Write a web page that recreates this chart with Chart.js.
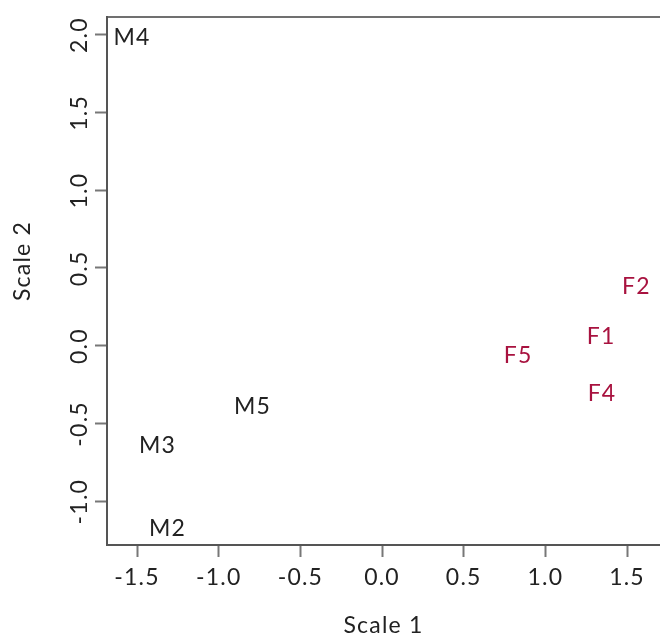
<!DOCTYPE html>
<html>
<head>
<meta charset="utf-8">
<script src="https://cdn.jsdelivr.net/npm/chart.js@4/dist/chart.umd.min.js"></script>
<style>
  html, body { margin: 0; padding: 0; background: #ffffff; }
  #wrap { width: 660px; height: 637px; position: relative; }
</style>
</head>
<body>
<div id="wrap"><canvas id="c" width="660" height="637"></canvas></div>
<script>
// ---- data ----
const maleLabels = ["M2", "M3", "M4", "M5"];
const maleScale1 = [-1.317, -1.378, -1.534, -0.796];
const maleScale2 = [-1.17, -0.64, 1.987, -0.385];

const femaleLabels = ["F1", "F2", "F4", "F5"];
const femaleScale1 = [1.338, 1.555, 1.344, 0.830];
const femaleScale2 = [0.061, 0.385, -0.304, -0.058];

const xTitle = "Scale 1";
const yTitle = "Scale 2";

const FONT = "Lato, 'DejaVu Sans', sans-serif";
const AXIS_COLOR = "#555555";
const TEXT_COLOR = "#222222";
const FEMALE_COLOR = "#A8123F";
const SPACING = "1.2px";

function toPoints(xs, ys) { return xs.map((x, i) => ({ x: x, y: ys[i] })); }

// wider letter spacing for all text, like the reference font
const spacing = {
  id: 'spacing',
  beforeDraw(chart) { chart.ctx.letterSpacing = SPACING; }
};

// draws each point as its text label, positioned by the chart's scales
const textPoints = {
  id: 'textPoints',
  afterDatasetsDraw(chart) {
    const ctx = chart.ctx;
    ctx.save();
    ctx.letterSpacing = SPACING;
    chart.data.datasets.forEach((ds, di) => {
      const meta = chart.getDatasetMeta(di);
      ctx.fillStyle = ds.textColor;
      ctx.font = "23px " + FONT;
      ctx.textAlign = "center";
      ctx.textBaseline = "alphabetic";
      meta.data.forEach((el, i) => {
        ctx.fillText(ds.pointLabels[i], el.x + 0.5, el.y + 8);
      });
    });
    ctx.restore();
  }
};

// rotated y tick labels and y title (R style)
const yAxisText = {
  id: 'yAxisText',
  afterDraw(chart) {
    const ctx = chart.ctx;
    const ys = chart.scales.y;
    ctx.save();
    ctx.letterSpacing = SPACING;
    ctx.fillStyle = TEXT_COLOR;
    ctx.font = "23px " + FONT;
    ctx.textAlign = "center";
    ctx.textBaseline = "middle";
    ys.ticks.forEach(t => {
      const py = ys.getPixelForValue(t.value);
      ctx.save();
      ctx.translate(80, py + 0.5);
      ctx.rotate(-Math.PI / 2);
      ctx.fillText(t.value.toFixed(1), 0, 0);
      ctx.restore();
    });
    ctx.save();
    ctx.translate(23, 261);
    ctx.rotate(-Math.PI / 2);
    ctx.fillText(yTitle, 0, 0);
    ctx.restore();
    ctx.restore();
  }
};

new Chart(document.getElementById('c'), {
  type: 'scatter',
  data: {
    datasets: [
      {
        label: 'Male',
        data: toPoints(maleScale1, maleScale2),
        pointLabels: maleLabels,
        textColor: TEXT_COLOR,
        pointRadius: 0,
        pointHoverRadius: 0
      },
      {
        label: 'Female',
        data: toPoints(femaleScale1, femaleScale2),
        pointLabels: femaleLabels,
        textColor: FEMALE_COLOR,
        pointRadius: 0,
        pointHoverRadius: 0
      }
    ]
  },
  options: {
    responsive: false,
    animation: false,
    events: [],
    layout: { padding: { left: 0, right: 0, top: 0, bottom: 0 } },
    plugins: {
      legend: { display: false },
      tooltip: { enabled: false },
      title: { display: false }
    },
    scales: {
      x: {
        type: 'linear',
        position: 'bottom',
        min: -1.684,
        max: 1.702,
        afterFit(scale) { scale.height = 92; },
        border: { display: true, color: AXIS_COLOR, width: 2 },
        grid: { drawOnChartArea: false, drawTicks: true, tickLength: 12, tickWidth: 2, color: '#777777' },
        ticks: {
          stepSize: 0.5,
          includeBounds: false,
          padding: 7,
          color: TEXT_COLOR,
          font: { family: FONT, size: 23 },
          maxRotation: 0,
          minRotation: 0,
          callback: (v) => Number(v).toFixed(1)
        },
        title: {
          display: true,
          text: xTitle,
          color: TEXT_COLOR,
          font: { family: FONT, size: 23, lineHeight: 1 },
          padding: { top: 0, bottom: 0 }
        }
      },
      xTop: {
        type: 'linear',
        position: 'top',
        min: -1.684,
        max: 1.702,
        afterFit(scale) { scale.height = 15; },
        border: { display: true, color: '#707070', width: 2 },
        grid: { display: true, drawOnChartArea: false, drawTicks: false },
        ticks: { display: false }
      },
      y: {
        type: 'linear',
        position: 'left',
        min: -1.282,
        max: 2.115,
        afterFit(scale) { scale.width = 107; },
        border: { display: true, color: AXIS_COLOR, width: 2 },
        grid: { drawOnChartArea: false, drawTicks: true, tickLength: 12, tickWidth: 2, color: '#777777' },
        ticks: {
          stepSize: 0.5,
          includeBounds: false,
          color: 'rgba(0,0,0,0)',
          font: { family: FONT, size: 23 }
        }
      }
    }
  },
  plugins: [spacing, textPoints, yAxisText]
});
</script>
</body>
</html>
